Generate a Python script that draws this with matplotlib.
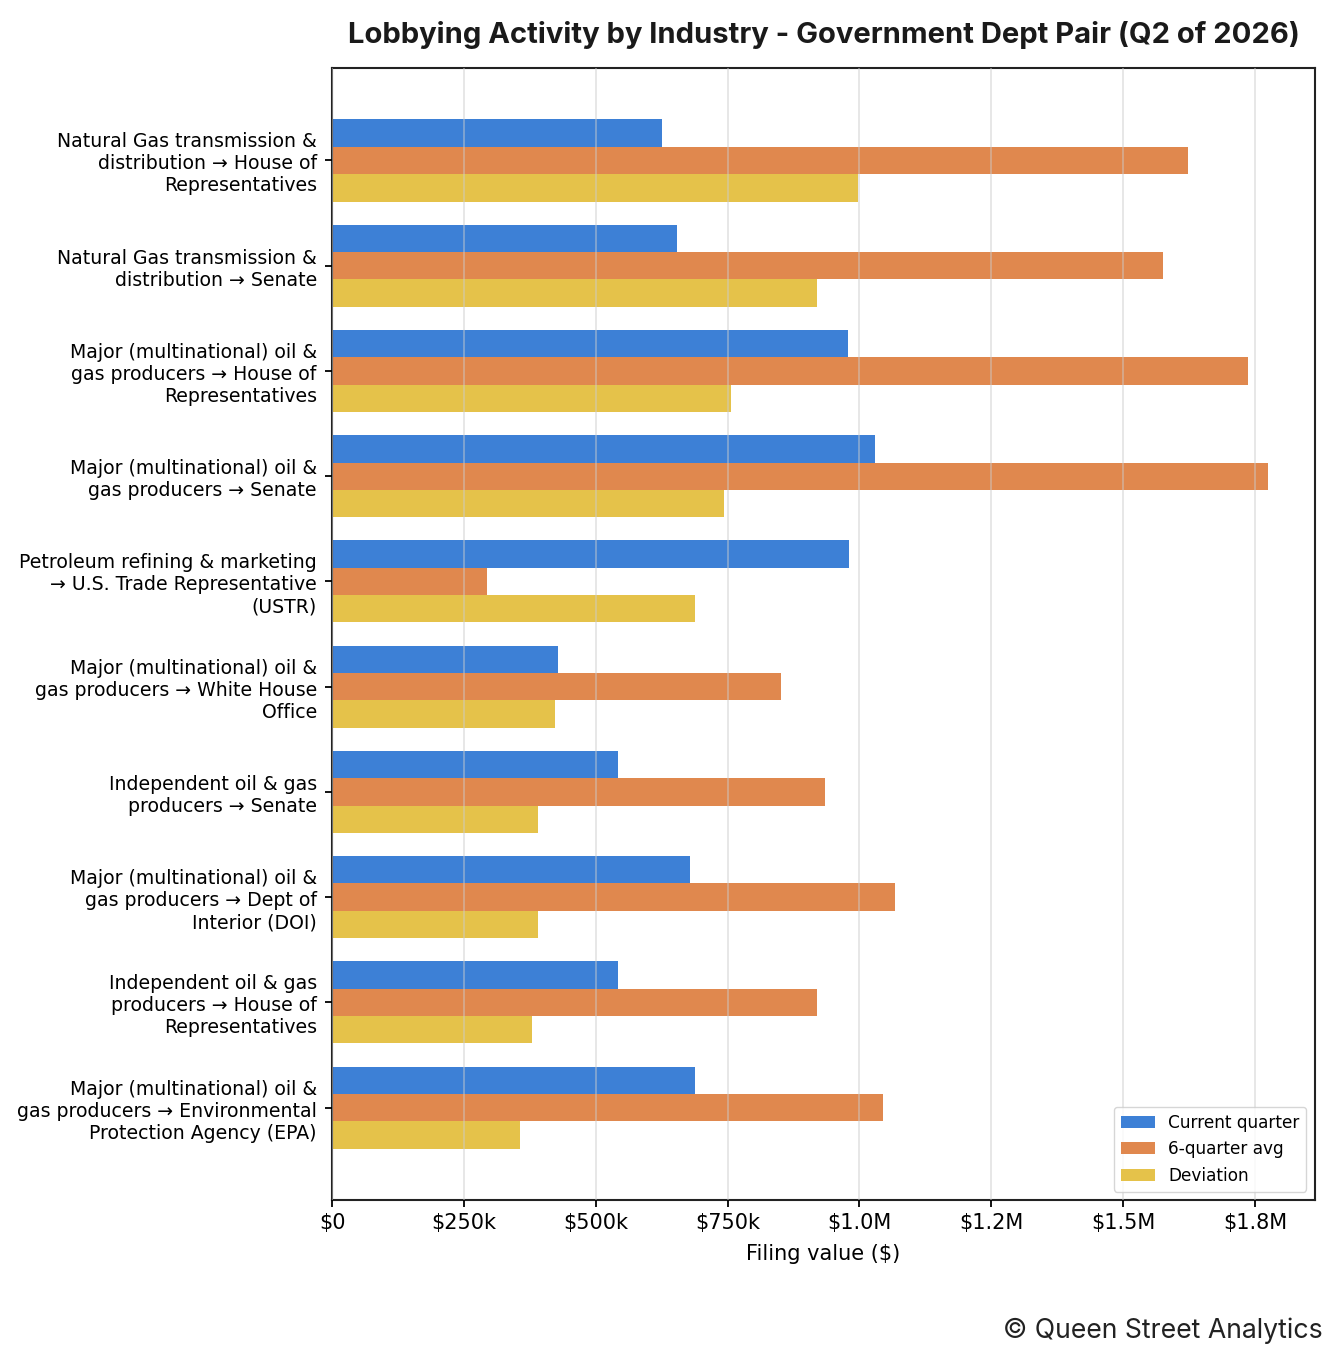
import textwrap
import numpy as np
import matplotlib.pyplot as plt
from matplotlib.ticker import FuncFormatter

plt.rcParams['font.family'] = ['DejaVu Sans']

pairs = [
    "Natural Gas transmission & distribution → House of Representatives",
    "Natural Gas transmission & distribution → Senate",
    "Major (multinational) oil & gas producers → House of Representatives",
    "Major (multinational) oil & gas producers → Senate",
    "Petroleum refining & marketing → U.S. Trade Representative (USTR)",
    "Major (multinational) oil & gas producers → White House Office",
    "Independent oil & gas producers → Senate",
    "Major (multinational) oil & gas producers → Dept of Interior (DOI)",
    "Independent oil & gas producers → House of Representatives",
    "Major (multinational) oil & gas producers → Environmental Protection Agency (EPA)",
]
current_q = [625000, 655000, 979000, 1030000, 981000, 428000, 542000, 678000, 542000, 688000]
avg_6q = [1623000, 1576000, 1737000, 1775000, 294000, 852000, 934000, 1068000, 920000, 1044000]
deviation = [998000, 920000, 756000, 744000, 688000, 422000, 390000, 390000, 379000, 356000]

series = [
    ("Current quarter", current_q, "#3d80d6"),
    ("6-quarter avg", avg_6q, "#e0884e"),
    ("Deviation", deviation, "#e5c24a"),
]


def money(x, pos):
    if x >= 1e6:
        return f"${x / 1e6:.1f}M"
    if x > 0:
        return f"${x / 1e3:.0f}k"
    return "$0"


fig = plt.figure(figsize=(13.4, 13.6), dpi=100)
ax = fig.add_axes([0.2478, 0.1176, 0.7335, 0.8324])

y = np.arange(len(pairs))
h = 0.26
for i, (name, vals, col) in enumerate(series):
    ax.barh(y + (i - 1) * h, vals, height=h, color=col, label=name)

ax.set_yticks(y)
ax.set_yticklabels([textwrap.fill(p, 30) for p in pairs], fontsize=13.6)
ax.invert_yaxis()
ax.xaxis.set_major_formatter(FuncFormatter(money))
ax.set_xticks(np.arange(0, 1750001, 250000))
ax.tick_params(axis="x", labelsize=15, length=5, width=1.3, pad=4.5)
ax.tick_params(axis="y", length=5, width=1.3, pad=6)
ax.set_xlabel("Filing value ($)", fontsize=15, labelpad=7.5)
ax.grid(axis="x", color="#cccccc", alpha=0.5, linewidth=1.3)
ax.set_axisbelow(False)
for s in ax.spines.values():
    s.set_linewidth(1.5)
    s.set_color("#222222")

ax.legend(loc="lower right", fontsize=12.2)
ax.set_title("Lobbying Activity by Industry - Government Dept Pair (Q2 of 2026)",
             fontsize=21, fontweight="bold", family="Inter", pad=18, color="#1a1a1a")
fig.text(0.9873, 0.0162, "© Queen Street Analytics", ha="right", va="baseline",
         fontsize=19.2, family="Inter", color="#222222")

fig.savefig("out.png", dpi=100)
